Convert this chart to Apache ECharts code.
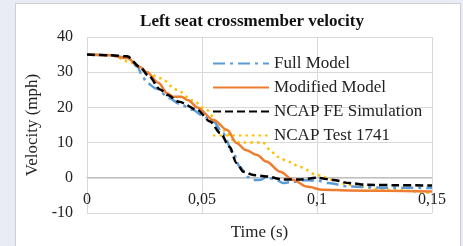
<!DOCTYPE html>
<html>
<head>
<meta charset="utf-8">
<script src="https://cdn.jsdelivr.net/npm/echarts@6/dist/echarts.min.js"></script>
<style>
  html, body { margin: 0; padding: 0; background: #e9ecf5; }
  #panel { position: absolute; left: 15px; top: 3px; width: 444px; height: 250px;
           background: #fff; border: 1px solid #cfcfcf; }
  #chart { position: absolute; left: 0; top: 0; width: 463px; height: 246px; }
</style>
</head>
<body>
<div id="panel"></div>
<div id="chart"></div>
<script>
// time (s) / velocity (mph) pairs
const fullModel = [
  [0, 35], [0.01, 34.8], [0.018, 34], [0.022, 31.5], [0.024, 29], [0.026, 27],
  [0.03, 25.4], [0.036, 22.6], [0.04, 21], [0.046, 19.3], [0.05, 17.8], [0.055, 16],
  [0.059, 12.7], [0.0636, 7], [0.0665, 3.1], [0.07, 0.2], [0.072, -0.6], [0.0752, -0.6],
  [0.078, 0.2], [0.082, -0.5], [0.0853, -1.5], [0.089, -1.2], [0.095, -0.7], [0.1, -0.8],
  [0.105, -1.5], [0.114, -2.5], [0.13, -2.8], [0.15, -2.9]
];
const modifiedModel = [
  [0, 35], [0.01, 34.8], [0.0174, 34], [0.023, 31.5], [0.026, 30], [0.031, 27],
  [0.035, 24], [0.0375, 23], [0.041, 23], [0.044, 22], [0.048, 20], [0.055, 16.4],
  [0.061, 13.6], [0.065, 9.9], [0.069, 7.9], [0.074, 6.5], [0.078, 4.6], [0.084, 1.7],
  [0.0897, -0.6], [0.0955, -2.5], [0.1027, -3.4], [0.114, -3.6], [0.13, -3.7], [0.15, -3.9]
];
const ncapSim = [
  [0, 35], [0.01, 34.8], [0.0174, 34.5], [0.023, 31.5], [0.0267, 29], [0.032, 25],
  [0.035, 23.5], [0.04, 21.6], [0.048, 19.3], [0.0535, 16], [0.058, 12.7], [0.062, 8.8],
  [0.065, 4.2], [0.068, 1.7], [0.0723, 0.8], [0.078, 0.4], [0.0853, -0.5], [0.0926, -0.5],
  [0.1, 0], [0.107, -0.6], [0.114, -1.5], [0.122, -2], [0.135, -2.1], [0.15, -2.2]
];
const ncapTest = [
  [0, 35], [0.01, 34.9], [0.02, 32.6], [0.026, 30], [0.032, 28.3], [0.039, 25],
  [0.046, 22], [0.052, 19.3], [0.0565, 16], [0.061, 12.7], [0.0635, 10.7], [0.0665, 10],
  [0.0765, 10], [0.0796, 7.9], [0.0826, 6], [0.088, 4.5], [0.0926, 3.1], [0.1, 0.8],
  [0.107, -0.6], [0.114, -2], [0.129, -3.4], [0.15, -4.3]
];
const seriesNames = ['Full Model', 'Modified Model', 'NCAP FE Simulation', 'NCAP Test 1741'];

const serif = '"Liberation Serif", "DejaVu Serif", serif';
const chart = echarts.init(document.getElementById('chart'));

function line(name, data, color, type, width, z) {
  return {
    name: name, type: 'line', data: data, symbol: 'none', z: z,
    smooth: 0.3, smoothMonotone: 'x',
    lineStyle: { color: color, width: width, type: type },
    itemStyle: { color: color }
  };
}

chart.setOption({
  backgroundColor: 'transparent',
  animation: false,
  title: {
    text: 'Left seat crossmember velocity',
    left: 247, top: 8, textAlign: 'center',
    textStyle: { fontFamily: serif, fontWeight: 'bold', fontSize: 17, color: '#111' }
  },
  legend: {
    orient: 'vertical', left: 207, top: 50,
    itemWidth: 56, itemHeight: 14, itemGap: 7,
    itemStyle: { opacity: 0 },
    textStyle: { fontFamily: serif, fontSize: 17, color: '#222' },
    data: seriesNames
  },
  grid: { left: 87, right: 31, top: 37, bottom: 33, outerBoundsMode: 'none' },
  xAxis: {
    type: 'value', min: 0, max: 0.15, interval: 0.05,
    // axis sits on the zero line, as in the source chart
    offset: -35.3,
    name: 'Time (s)', nameLocation: 'middle', nameGap: 46,
    nameTextStyle: { fontFamily: serif, fontSize: 17, color: '#222' },
    axisLine: { onZero: false, lineStyle: { color: '#bfbfbf' } },
    axisTick: { show: false },
    axisLabel: {
      margin: 14, fontFamily: serif, fontSize: 16, color: '#222',
      formatter: v => String(Math.round(v * 100) / 100).replace('.', ',')
    },
    splitLine: { show: true, lineStyle: { color: '#d9d9d9' } }
  },
  yAxis: {
    type: 'value', min: -10, max: 40, interval: 10,
    name: 'Velocity (mph)', nameLocation: 'middle', nameGap: 37, nameRotate: 90,
    nameTextStyle: { fontFamily: serif, fontSize: 17, color: '#222' },
    axisLine: { show: false, onZero: false },
    axisTick: { show: false },
    axisLabel: { margin: 14, fontFamily: serif, fontSize: 16, color: '#222' },
    splitLine: { show: true, lineStyle: { color: '#d9d9d9' } }
  },
  series: [
    line(seriesNames[0], fullModel, '#5b9bd5', [12, 5, 3, 5], 2.5, 2),
    line(seriesNames[1], modifiedModel, '#ed7d31', 'solid', 2.5, 3),
    line(seriesNames[2], ncapSim, '#000000', [8, 4], 2.5, 4),
    line(seriesNames[3], ncapTest, '#ffc000', [2.5, 4], 2.5, 1)
  ]
});
</script>
</body>
</html>
